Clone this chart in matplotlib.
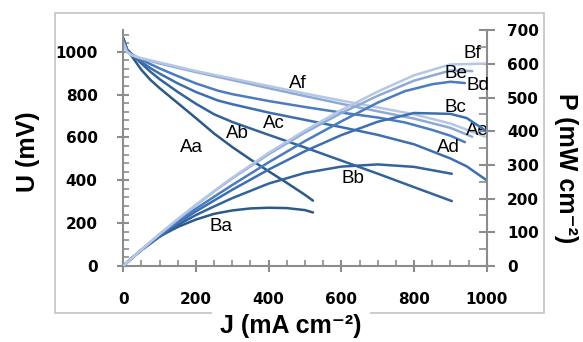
import matplotlib
matplotlib.use("Agg")
import matplotlib.pyplot as plt
from matplotlib.font_manager import FontProperties
from matplotlib.patches import Rectangle
from matplotlib.ticker import MultipleLocator

# ---- data -----------------------------------------------------------------
# polarisation curves U (mV) and power density P (mW cm-2) vs J (mA cm-2)
J_a = [0, 10, 25, 50, 75, 100, 125, 150, 200, 250, 300, 350, 400, 450, 500, 522]
U_a = [1065, 1012, 975, 915, 868, 830, 795, 760, 690, 618, 555, 497, 442, 388, 332, 305]
P_a = [0, 10.3, 25, 48, 67, 88, 102, 116, 138, 155, 165, 171, 173, 172, 166, 159]

J_b = [0, 10, 25, 50, 75, 100, 150, 200, 250, 300, 400, 500, 600, 700, 800, 904]
U_b = [1060, 1012, 985, 945, 906, 872, 812, 757, 708, 672, 612, 553, 492, 431, 368, 303]
P_b = [0, 10.1, 24.6, 47.2, 68, 87, 121.8, 151.4, 177, 201.6, 244.8, 276.5, 295.2, 301.7, 294.4, 273.9]

J_c = [0, 10, 25, 50, 75, 100, 150, 200, 261, 300, 400, 500, 600, 700, 800, 900, 945, 1000]
U_c = [1055, 1010, 985, 952, 923, 898, 852, 812, 772, 755, 716, 682, 648, 612, 568, 502, 465, 400]
P_c = [0, 10.1, 24.6, 47.6, 69.2, 89.8, 127.8, 162.4, 201.5, 226.5, 286.4, 341, 388.8, 428.4, 454.4, 451.8, 439.4, 400]

J_d = [0, 10, 25, 50, 100, 150, 200, 261, 300, 400, 500, 600, 700, 775, 850, 900, 940]
U_d = [1050, 1008, 987, 962, 922, 886, 852, 818, 802, 770, 742, 716, 693, 670, 635, 608, 578]
P_d = [0, 10.1, 24.7, 48.1, 92.2, 132.9, 170.4, 213.5, 240.6, 308, 371, 429.6, 485.1, 519.3, 539.8, 547.2, 543.3]

J_e = [0, 10, 25, 50, 100, 150, 200, 261, 300, 400, 500, 600, 700, 800, 900, 960]
U_e = [1045, 1000, 982, 968, 945, 925, 905, 882, 868, 830, 793, 757, 722, 688, 645, 603]
P_e = [0, 10, 24.6, 48.4, 94.5, 138.8, 181, 230.2, 260.4, 332, 396.5, 454.2, 505.4, 550.4, 580.5, 578.9]

J_f = [0, 10, 25, 50, 100, 150, 200, 261, 300, 400, 500, 600, 700, 800, 900, 995]
U_f = [1040, 998, 983, 970, 950, 930, 910, 888, 875, 840, 805, 772, 740, 708, 665, 604]
P_f = [0, 10, 24.6, 48.5, 95, 139.5, 182, 231.8, 262.5, 336, 402.5, 463.2, 518, 566.4, 598.5, 601]

J_ALL = [J_a, J_b, J_c, J_d, J_e, J_f]
U_ALL = [U_a, U_b, U_c, U_d, U_e, U_f]
P_ALL = [P_a, P_b, P_c, P_d, P_e, P_f]

# curve labels: (text, J, value on own axis)
A_LABELS = [("Aa", 187, 551), ("Ab", 313, 618), ("Ac", 415, 665),
            ("Ad", 895, 553), ("Ae", 975, 632), ("Af", 481, 852)]
B_LABELS = [("Ba", 270, 117), ("Bb", 633, 260), ("Bc", 913, 472),
            ("Bd", 975, 537), ("Be", 914, 571), ("Bf", 961, 630)]

COLORS = ["#2d5986", "#32639c", "#3d6fb0", "#4a7cbf", "#8fa9d5", "#b5c7e5"]
AXIS_GRAY = "#8c8c8c"

W, H = 583, 342
fig = plt.figure(figsize=(W / 100, H / 100), dpi=100)
ax = fig.add_axes([123.3 / W, 1 - 266 / H, 363.4 / W, 235.7 / H])
ax2 = ax.twinx()

for J, U, P, c in zip(J_ALL, U_ALL, P_ALL, COLORS):
    ax.plot(J, U, color=c, lw=1.8, solid_capstyle="round", solid_joinstyle="round")
    ax2.plot(J, P, color=c, lw=1.8, solid_capstyle="round", solid_joinstyle="round")

ax.set_xlim(0, 1000)
ax.set_ylim(0, 1100)
ax2.set_ylim(0, 700)

for a in (ax, ax2):
    a.set_facecolor("none")
    a.spines["top"].set_visible(False)
    for s in ("left", "right", "bottom"):
        a.spines[s].set_color(AXIS_GRAY)
        a.spines[s].set_linewidth(1.5)
ax.spines["right"].set_visible(False)
ax2.spines["left"].set_visible(False)
ax2.spines["bottom"].set_visible(False)

ax.xaxis.set_major_locator(MultipleLocator(200))
ax.xaxis.set_minor_locator(MultipleLocator(50))
ax.yaxis.set_major_locator(MultipleLocator(200))
ax.yaxis.set_minor_locator(MultipleLocator(40))
ax2.yaxis.set_major_locator(MultipleLocator(100))
ax2.yaxis.set_minor_locator(MultipleLocator(50))

ax.tick_params(which="major", direction="inout", length=9, width=1.5,
               color=AXIS_GRAY)
ax.tick_params(which="minor", direction="in", length=4, width=1.2,
               color=AXIS_GRAY)
ax.tick_params(axis="y", which="major", pad=14)
ax.tick_params(axis="x", which="major", pad=14)
ax2.tick_params(which="major", direction="inout", length=11, width=1.5,
                color=AXIS_GRAY, pad=9)
ax2.tick_params(which="minor", direction="in", length=6, width=1.2,
                color=AXIS_GRAY)
tick_fp = FontProperties(family="DejaVu Sans", weight="bold", size=11)
for lab in ax.get_xticklabels() + ax.get_yticklabels() + ax2.get_yticklabels():
    lab.set_fontproperties(tick_fp)

for txt, x, y in A_LABELS:
    ax.text(x, y, txt, fontsize=13.5, family="Liberation Sans",
            ha="center", va="center")
for txt, x, y in B_LABELS:
    ax2.text(x, y, txt, fontsize=13.5, family="Liberation Sans",
             ha="center", va="center")

# outer chart frame (Excel chart area)
fig.add_artist(Rectangle((55 / W, 1 - 313 / H), (544 - 55) / W, (313 - 13) / H,
                         transform=fig.transFigure, fill=False,
                         edgecolor="#c4c4c4", lw=1.2))

lab_font = dict(family=["Liberation Sans", "DejaVu Sans"], weight="bold", size=18)
fig.text(28 / W, 1 - 152 / H, "U (mV)", rotation=90, ha="center", va="center",
         **lab_font)
fig.text(291 / W, 1 - 326 / H, "J (mA cm\u207b\u00b2)", ha="center", va="center",
         bbox=dict(facecolor="white", edgecolor="none", pad=6), **lab_font)
fig.text(566 / W, 1 - 168 / H, "P (mW cm\u207b\u00b2)", rotation=-90,
         ha="center", va="center",
         bbox=dict(facecolor="white", edgecolor="none", pad=6), **lab_font)

fig.savefig("out.png", dpi=100)
